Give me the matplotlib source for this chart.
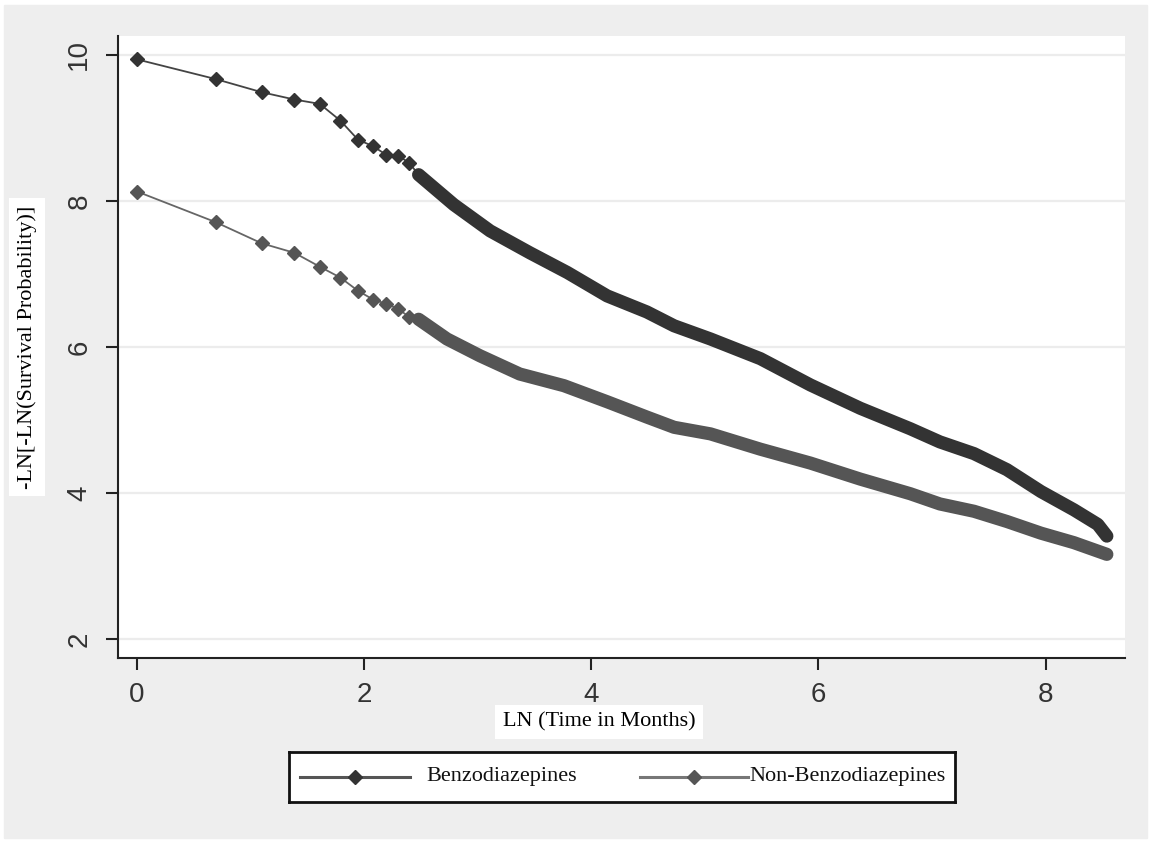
import numpy as np
import matplotlib
matplotlib.use("Agg")
import matplotlib.pyplot as plt
from matplotlib.patches import Rectangle

# log-log survival curves, benzodiazepines vs non-benzodiazepines
months_early = [1, 2, 3, 4, 5, 6, 7, 8, 9, 10, 11]
benzo_early = [9.94, 9.67, 9.49, 9.39, 9.33, 9.10, 8.84, 8.75, 8.63, 8.62, 8.52]
nonbenzo_early = [8.13, 7.71, 7.42, 7.29, 7.10, 6.95, 6.77, 6.65, 6.59, 6.52, 6.41]

# later part of the curves, markers too close to tell apart
benzo_ln_t = [2.48, 2.79, 3.11, 3.46, 3.79, 4.14, 4.49, 4.73, 5.05, 5.49, 5.93,
              6.37, 6.81, 7.07, 7.37, 7.66, 7.96, 8.25, 8.46, 8.54]
benzo_late = [8.36, 7.95, 7.59, 7.29, 7.02, 6.70, 6.48, 6.29, 6.11, 5.84, 5.48,
              5.16, 4.88, 4.70, 4.54, 4.32, 4.02, 3.77, 3.57, 3.41]
nonbenzo_ln_t = [2.48, 2.73, 3.02, 3.37, 3.76, 4.14, 4.49, 4.73, 5.05, 5.49,
                 5.93, 6.37, 6.81, 7.07, 7.37, 7.66, 7.96, 8.25, 8.54]
nonbenzo_late = [6.38, 6.11, 5.88, 5.63, 5.47, 5.25, 5.04, 4.90, 4.81, 4.60,
                 4.41, 4.19, 3.99, 3.85, 3.75, 3.61, 3.45, 3.32, 3.16]

labels = ["Benzodiazepines", "Non-Benzodiazepines"]
yticks = [2, 4, 6, 8, 10]
xticks = [0, 2, 4, 6, 8]

W, H = 1151, 843
fig = plt.figure(figsize=(W / 100, H / 100), dpi=100)
fig.patch.set_facecolor("white")
fig.patches.append(Rectangle((4 / W, 5 / H), 1143 / W, 833 / H,
                             transform=fig.transFigure, color="#eeeeee", zorder=-5))

ax = fig.add_axes([118 / W, 1 - 658 / H, 1007 / W, 622 / H])
ax.set_facecolor("white")

series = [
    (months_early, nonbenzo_early, nonbenzo_ln_t, nonbenzo_late, "#555555", "#666666"),
    (months_early, benzo_early, benzo_ln_t, benzo_late, "#333333", "#444444"),
]
for m, y0, xl, yl, mc, lc in series:
    x0 = list(np.log(m))
    ax.plot(x0 + xl, y0 + yl, color=lc, lw=1.3, zorder=3)
    ax.plot(x0, y0, ls="none", marker="D", ms=7.2, color=mc, zorder=4)
    ax.plot(xl, yl, color=mc, lw=9.5, solid_capstyle="round",
            solid_joinstyle="round", zorder=4)

ax.set_xlim(-0.167, 8.70)
ax.set_ylim(1.74, 10.26)
ax.set_xticks(xticks)
ax.set_yticks(yticks)
ax.grid(axis="y", color="#ececec", lw=1.6)
ax.set_axisbelow(True)
for s in ["top", "right"]:
    ax.spines[s].set_visible(False)
for s in ["left", "bottom"]:
    ax.spines[s].set_linewidth(1.5)
    ax.spines[s].set_color("#222222")
ax.tick_params(axis="both", direction="out", length=8.5, width=1.5, color="#222222")
ax.tick_params(axis="x", pad=9)
ax.tick_params(axis="y", pad=10, labelrotation=90)
for t in ax.get_xticklabels() + ax.get_yticklabels():
    t.set_fontfamily("Liberation Sans")
    t.set_fontsize(20)
    t.set_color("#333333")
for t in ax.get_yticklabels():
    t.set_va("center")

box = dict(boxstyle="square,pad=0.35", facecolor="white", edgecolor="none")
fig.text(27 / W, 1 - 347 / H, "-LN[-LN(Survival Probability)]", rotation=90,
         ha="center", va="center", family="Liberation Serif", fontsize=16, bbox=box)
fig.text(599 / W, 1 - 722 / H, "LN (Time in Months)", ha="center", va="center",
         family="Liberation Serif", fontsize=16, bbox=box)

# legend box below the plot
lg = fig.add_axes([289 / W, 1 - 802 / H, 666 / W, 50 / H])
lg.set_xlim(0, 1)
lg.set_ylim(0, 1)
lg.set_xticks([])
lg.set_yticks([])
for s in lg.spines.values():
    s.set_linewidth(2)
    s.set_color("#111111")
handles = [(0.0165, 0.1817, 0.0991, 0.2057, "#333333", "#555555"),
           (0.527, 0.6892, 0.6081, 0.6907, "#555555", "#777777")]
for (a, b, mk, tx, mc, lc), lab in zip(handles, labels):
    lg.plot([a, b], [0.5, 0.5], color=lc, lw=2.2)
    lg.plot([mk], [0.5], marker="D", ms=7.2, color=mc, ls="none")
    lg.text(tx, 0.5, lab, ha="left", va="center", family="Liberation Serif",
            fontsize=16, color="#111111")

fig.savefig("out.png", dpi=100, facecolor=fig.get_facecolor())
